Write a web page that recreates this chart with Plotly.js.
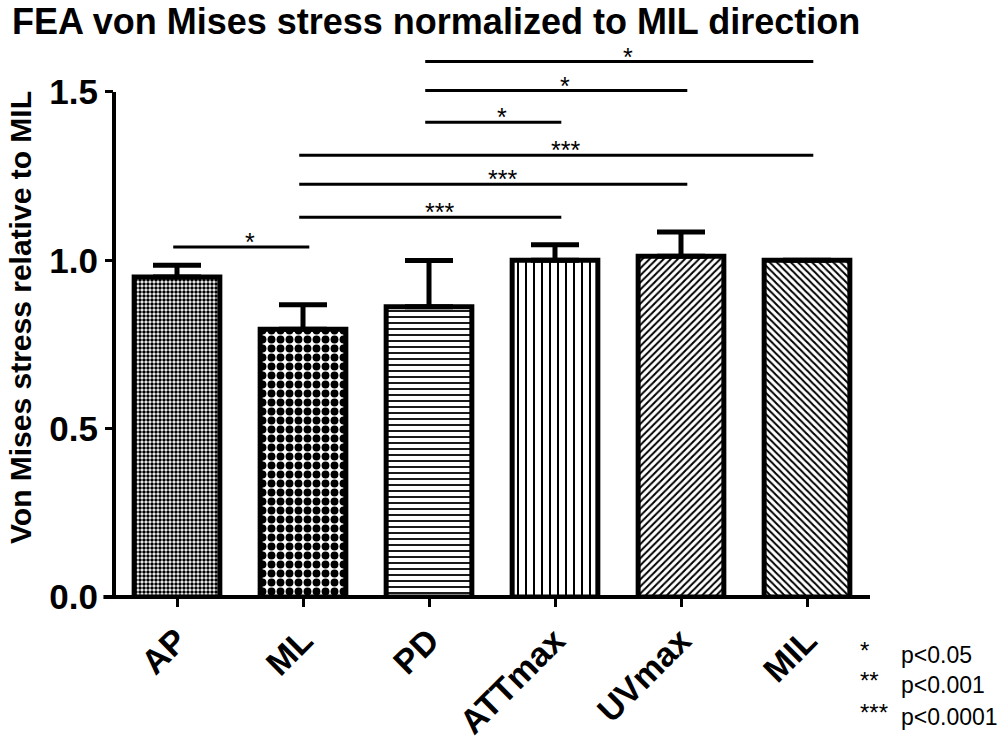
<!DOCTYPE html>
<html>
<head>
<meta charset="utf-8">
<script src="https://cdn.plot.ly/plotly-3.0.1.min.js"></script>
<style>html,body{margin:0;padding:0;background:#fff;}#chart{width:1005px;height:741px;}</style>
</head>
<body>
<div id="chart"></div>
<script>
// ---- data ----
const categories = ['AP', 'ML', 'PD', 'ATTmax', 'UVmax', 'MIL'];
const means = [0.95, 0.795, 0.862, 1.0, 1.012, 1.0];
const errUp = [0.035, 0.073, 0.137, 0.046, 0.072, 0];
const yTickVals = [0, 0.5, 1.0, 1.5];
const yTickText = ['0.0', '0.5', '1.0', '1.5'];

// significance comparisons (category index from/to, bracket height, label)
const sigFrom = [0, 1, 1, 1, 2, 2, 2];
const sigTo = [1, 3, 4, 5, 3, 4, 5];
const sigY = [1.039, 1.128, 1.226, 1.312, 1.41, 1.504, 1.59];
const sigLabel = ['*', '***', '***', '***', '*', '*', '*'];

const keyStars = ['*', '**', '***'];
const keyText = ['p<0.05', 'p<0.001', 'p<0.0001'];

// ---- styling ----
const patShapes = ['.', '.', '-', '|', '/', '\\'];
const patSizes = [4, 9, 6, 8, 5, 5];
const patSolid = [0.6, 0.6, 0.3, 0.25, 0.4, 0.4];
const FONT = 'Liberation Sans, Arial, sans-serif';

const trace = {
  type: 'bar',
  x: categories,
  y: means,
  width: 0.68,
  marker: {
    color: 'white',
    line: {color: 'black', width: 5},
    pattern: {shape: patShapes, size: patSizes, solidity: patSolid,
              fgcolor: 'black', bgcolor: 'white', fillmode: 'replace'}
  },
  error_y: {type: 'data', symmetric: false, array: errUp,
            arrayminus: errUp.map(() => 0), color: 'black', thickness: 5, width: 24},
  hoverinfo: 'skip'
};

const shapes = [];
const annotations = [];
// axis lines
shapes.push({type: 'line', xref: 'paper', yref: 'y', x0: 0, x1: 0, y0: 0, y1: 1.5,
             line: {color: 'black', width: 4}, layer: 'above'});
shapes.push({type: 'line', xref: 'paper', yref: 'paper', x0: -0.014, x1: 1, y0: 0, y1: 0,
             line: {color: 'black', width: 4}, layer: 'above'});

for (let i = 0; i < sigFrom.length; i++) {
  const x0 = sigFrom[i] - 0.03, x1 = sigTo[i] + 0.05;
  shapes.push({type: 'line', xref: 'x', yref: 'y', x0: x0, x1: x1, y0: sigY[i], y1: sigY[i],
               line: {color: 'black', width: 3}});
  annotations.push({xref: 'x', yref: 'y', x: (x0 + x1) / 2 + 0.07, y: sigY[i] + 0.014,
                    yanchor: 'middle', text: sigLabel[i], showarrow: false,
                    font: {family: FONT, size: 25, color: 'black'}});
}
const keyY = [-0.104, -0.158, -0.214];
for (let i = 0; i < keyStars.length; i++) {
  annotations.push({xref: 'paper', yref: 'paper', x: 0.984, y: keyY[i] + 0.008, xanchor: 'left',
                    yanchor: 'middle', text: keyStars[i], showarrow: false,
                    font: {family: FONT, size: 24, color: 'black'}});
  annotations.push({xref: 'paper', yref: 'paper', x: 1.038, y: keyY[i], xanchor: 'left',
                    yanchor: 'middle', text: keyText[i], showarrow: false,
                    font: {family: FONT, size: 23, color: 'black'}});
}

const layout = {
  width: 1005, height: 741,
  margin: {l: 114, r: 135, t: 38, b: 144, pad: 0},
  paper_bgcolor: 'white', plot_bgcolor: 'white',
  showlegend: false,
  title: {text: 'FEA von Mises stress normalized to MIL direction',
          x: 0.012, xanchor: 'left', xref: 'container', y: 0.971, yanchor: 'middle', yref: 'container',
          font: {family: FONT, size: 36, weight: 'bold', color: 'black'}},
  xaxis: {type: 'category', range: [-0.5, 5.5], showline: false, showgrid: false, zeroline: false,
          ticks: 'outside', ticklen: 9, tickwidth: 3, tickcolor: 'black', tickangle: -45,
          tickfont: {family: FONT, size: 34, weight: 'bold', color: 'black'}, fixedrange: true},
  yaxis: {range: [0, 1.66], showline: false, showgrid: false, zeroline: false,
          tickvals: yTickVals, ticktext: yTickText,
          ticks: 'outside', ticklen: 8, tickwidth: 3, tickcolor: 'black',
          tickfont: {family: FONT, size: 35, weight: 'bold', color: 'black'},
          title: {text: 'Von Mises stress relative to MIL', standoff: 8,
                  font: {family: FONT, size: 30, weight: 'bold', color: 'black'}},
          fixedrange: true},
  shapes: shapes,
  annotations: annotations
};

Plotly.newPlot('chart', [trace], layout, {staticPlot: true, displayModeBar: false});
</script>
</body>
</html>
